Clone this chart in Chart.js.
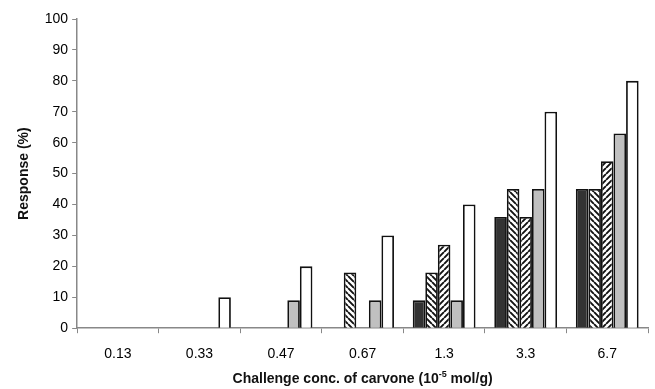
<!DOCTYPE html>
<html>
<head>
<meta charset="utf-8">
<script src="https://cdn.jsdelivr.net/npm/chart.js@4.4.1/dist/chart.umd.min.js"></script>
<style>
html,body{margin:0;padding:0;background:#fff;}
#wrap{width:655px;height:389px;}
</style>
</head>
<body>
<div id="wrap"><canvas id="c" width="655" height="389"></canvas></div>
<script>
const categories = ['0.13','0.33','0.47','0.67','1.3','3.3','6.7'];
const seriesDark   = [0,0,0,0,9,36,45];
const seriesHatchA = [0,0,0,18,18,45,45];
const seriesHatchB = [0,0,0,0,27,36,54];
const seriesGray   = [0,0,9,9,9,45,63];
const seriesWhite  = [0,10,20,30,40,70,80];
const yTicks = [0,10,20,30,40,50,60,70,80,90,100];
const xTitleMain = 'Challenge conc. of carvone (10';
const xTitleSup = '-5';
const xTitleEnd = ' mol/g)';

const c2 = document.getElementById('c').getContext('2d');
function mk(dir){
  const s = 6;
  const cv = document.createElement('canvas');
  cv.width = s; cv.height = s;
  const g = cv.getContext('2d');
  g.fillStyle = '#fff';
  g.fillRect(0,0,s,s);
  g.strokeStyle = '#111';
  g.lineWidth = 1.9;
  g.beginPath();
  if (dir === 'back') {
    for (let k=-1;k<=1;k++){ g.moveTo(k*s,0); g.lineTo(k*s+s,s); }
  } else {
    for (let k=-1;k<=1;k++){ g.moveTo(k*s,s); g.lineTo(k*s+s,0); }
  }
  g.stroke();
  return c2.createPattern(cv,'repeat');
}
const font = "'Liberation Sans', Arial, sans-serif";
const common = {borderColor:'#111', borderWidth:1.8, categoryPercentage:0.77, barPercentage:1.0};

const xTitlePlugin = {
  id:'xTitle',
  afterDraw(chart){
    const g = chart.ctx;
    const a = chart.chartArea;
    g.save();
    g.fillStyle = '#111';
    g.textBaseline = 'alphabetic';
    const big = "bold 14px " + font, small = "bold 9px " + font;
    g.font = big; const w1 = g.measureText(xTitleMain).width; const w3 = g.measureText(xTitleEnd).width;
    g.font = small; const w2 = g.measureText(xTitleSup).width;
    const total = w1+w2+w3;
    const cx = (a.left + a.right)/2;
    let x = cx - total/2;
    const y = 383;
    g.font = big; g.fillText(xTitleMain, x, y); x += w1;
    g.font = small; g.fillText(xTitleSup, x, y-6); x += w2;
    g.font = big; g.fillText(xTitleEnd, x, y);
    g.restore();
  }
};

new Chart(c2, {
  type:'bar',
  data:{
    labels: categories,
    datasets:[
      Object.assign({label:'a', data:seriesDark, backgroundColor:'#333333'}, common),
      Object.assign({label:'b', data:seriesHatchA, backgroundColor:mk('back')}, common),
      Object.assign({label:'c', data:seriesHatchB, backgroundColor:mk('fwd')}, common),
      Object.assign({label:'d', data:seriesGray, backgroundColor:'#c0c0c0'}, common),
      Object.assign({label:'e', data:seriesWhite, backgroundColor:'#ffffff'}, common)
    ]
  },
  plugins:[xTitlePlugin],
  options:{
    responsive:false,
    animation:false,
    layout:{padding:{top:19,right:7,left:16,bottom:13}},
    plugins:{legend:{display:false}, tooltip:{enabled:false}},
    scales:{
      x:{
        grid:{display:true, drawOnChartArea:false, drawTicks:true, tickLength:5, color:'#888', offset:true},
        border:{display:true, color:'#888', width:1.5},
        ticks:{color:'#000', font:{family:font, size:14}, padding:13}
      },
      y:{
        min:0, max:100,
        afterBuildTicks:(ax)=>{ ax.ticks = yTicks.map(v=>({value:v})); },
        grid:{display:true, drawOnChartArea:false, drawTicks:true, tickLength:5, color:'#888'},
        border:{display:true, color:'#888', width:1.5},
        ticks:{color:'#000', font:{family:font, size:14}, padding:4},
        title:{display:true, text:'Response (%)', color:'#111', font:{family:font, size:14, weight:'bold'}, padding:{top:0,bottom:8}}
      }
    }
  }
});
</script>
</body>
</html>
